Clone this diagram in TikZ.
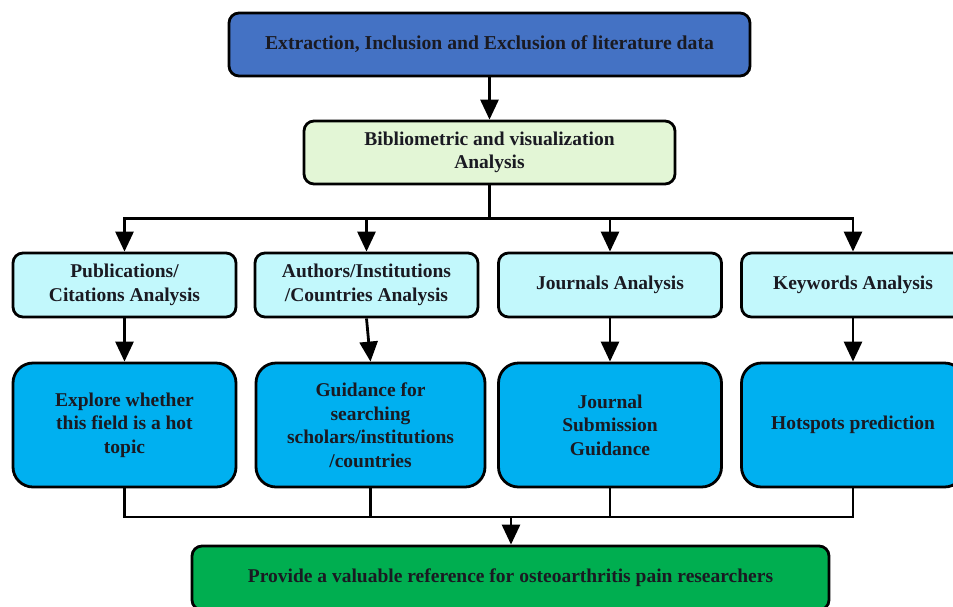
\documentclass[tikz,border=0pt]{standalone}
\usepackage{fontspec}
\setmainfont{Liberation Serif}
\usepackage{tikz}
\usetikzlibrary{arrows.meta}
\definecolor{FlowSource}{HTML}{4472C4}
\definecolor{FlowMethod}{HTML}{E3F6D6}
\definecolor{FlowTopic}{HTML}{C2F8FC}
\definecolor{FlowUse}{HTML}{00B0F0}
\definecolor{FlowGoal}{HTML}{00AE50}
\definecolor{FlowText}{HTML}{1A1A22}
\tikzset{
  flowbox/.style={draw=black,line width=2.8pt,rounded corners=10pt,inner sep=0pt,
    align=center,text=FlowText,font=\bfseries\fontsize{19.5}{23.5}\selectfont},
  topicbox/.style={flowbox,fill=FlowTopic,minimum width=223pt,minimum height=64pt},
  usebox/.style={flowbox,fill=FlowUse,rounded corners=20pt,minimum width=223pt,minimum height=124pt},
  wire/.style={line width=2.8pt},
  link/.style={wire,-{Triangle[width=18pt,length=20pt]}}
}
\begin{document}
\begin{tikzpicture}[x=1pt,y=-1pt]
      \useasboundingbox (0,0) rectangle (953,606);
      \clip (0,0) rectangle (953,606);
      \node[flowbox,fill=FlowSource,minimum width=521pt,minimum height=63pt] (source) at (489.5,44.5)
        {\fontsize{19.7}{23}\selectfont Extraction, Inclusion and Exclusion of literature data};
      \node[flowbox,fill=FlowMethod,minimum width=371pt,minimum height=63pt] (method) at (489.5,152.5)
        {Bibliometric and visualization\\Analysis};
      \node[topicbox] (pubs) at (124.5,285) {Publications/\\Citations Analysis};
      \node[topicbox] (authors) at (366.5,285) {Authors/Institutions\\/Countries Analysis};
      \node[topicbox] (journals) at (610,285) {Journals Analysis};
      \node[topicbox] (keywords) at (853,285) {Keywords Analysis};
      \node[usebox] (hot) at (124.5,425) {Explore whether\\this field is a hot\\topic};
      \node[usebox,minimum width=229pt] (scholars) at (370.5,425) {Guidance for\\searching\\scholars/institutions\\/countries};
      \node[usebox] (submit) at (610,425) {Journal\\Submission\\Guidance};
      \node[usebox] (hotspots) at (853,425) {Hotspots prediction};
      \node[flowbox,fill=FlowGoal,minimum width=637pt,minimum height=64pt] (goal) at (510.5,578)
        {Provide a valuable reference for osteoarthritis pain researchers};
      % connectors
      \draw[link] (source) -- (method);
      \draw[wire] (method.south) -- ++(0,33) coordinate (split);
      \foreach \n in {pubs,authors,journals,keywords}
        \draw[link] (split) -| (\n.north);
      \draw[link] (pubs) -- (hot);
      \draw[link] (authors.south) -- (scholars.north);
      \draw[link] (journals) -- (submit);
      \draw[link] (keywords) -- (hotspots);
      \coordinate (merge) at (511,517);
      \foreach \n in {hot,scholars,submit,hotspots}
        \draw[wire] (\n.south) |- (merge);
      \draw[link] (merge) -- (goal.north -| merge);
    \end{tikzpicture}
\end{document}
